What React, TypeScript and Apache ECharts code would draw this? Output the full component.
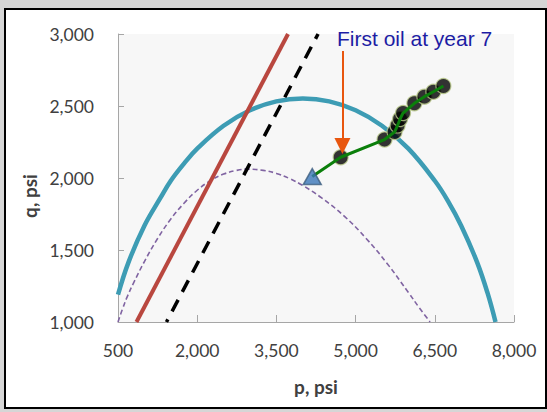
import { useEffect, useRef } from 'react';
import * as echarts from 'echarts';

// ---- data ----
const xTicks = [500, 2000, 3500, 5000, 6500, 8000];

const tealP = [500, 700, 1000, 1300, 1500, 1750, 2000, 2500, 3000, 3500, 4000, 4500, 5000, 5500, 6000, 6500, 6750, 7000, 7300, 7500, 7650];
const tealQ = [1190, 1416, 1669, 1860, 1981, 2100, 2204, 2363, 2470, 2532, 2552, 2532, 2470, 2363, 2204, 1981, 1840, 1669, 1416, 1200, 1000];

const purpleP = [500, 580, 680, 800, 1000, 1250, 1500, 1750, 2000, 2250, 2500, 2750, 2950, 3250, 3500, 3756, 4000, 4357, 4800, 5200, 5600, 6000, 6200, 6410];
const purpleQ = [1000, 1085, 1180, 1275, 1420, 1580, 1715, 1825, 1915, 1982, 2027, 2053, 2062, 2053, 2032, 1995, 1948, 1862, 1730, 1580, 1405, 1205, 1102, 1000];

const redP = [850, 3720];
const redQ = [1000, 3000];

const blackP = [1418, 4289];
const blackQ = [1000, 3000];

const startP = [4179];
const startQ = [2010];

const oilP = [4717, 5548, 5738, 5795, 5842, 5899, 6113, 6303, 6473, 6663];
const oilQ = [2144, 2267, 2319, 2365, 2410, 2451, 2519, 2565, 2599, 2639];

const arrowP = [4751, 4751];
const arrowQ = [2882, 2222];

const annotation = 'First oil at year 7';
const xTitle = 'p, psi';
const yTitle = 'q, psi';

const zip = (a: number[], b: number[]) => a.map((v, i) => [v, b[i]]);

export default function App() {
  const ref = useRef<HTMLDivElement>(null);

  useEffect(() => {
    if (!ref.current) return;
    const chart = echarts.init(ref.current, undefined, { renderer: 'svg' });
    const labelFont = { fontFamily: 'Lato', fontSize: 17.5, color: '#404040' };
    const fmt = (v: number) => v.toLocaleString('en-US');

    chart.setOption({
      animation: false,
      backgroundColor: 'transparent',
      grid: {
        left: 118,
        right: 33,
        top: 34,
        bottom: 90,
        show: true,
        backgroundColor: '#f7f7f7',
        borderWidth: 0,
      },
      xAxis: {
        type: 'value',
        min: 500,
        max: 8000,
        splitLine: { show: false },
        axisLine: { show: true, onZero: false, lineStyle: { color: '#a6a6a6', width: 1 } },
        axisTick: { show: true, inside: true, length: 7, customValues: xTicks, lineStyle: { color: '#a6a6a6' } },
        axisLabel: { ...labelFont, margin: 19, customValues: xTicks, formatter: fmt },
      },
      yAxis: {
        type: 'value',
        min: 1000,
        max: 3000,
        interval: 500,
        splitLine: { show: false },
        axisLine: { show: true, onZero: false, lineStyle: { color: '#a6a6a6', width: 1 } },
        axisTick: { show: true, inside: true, length: 6, lineStyle: { color: '#a6a6a6' } },
        axisLabel: { ...labelFont, margin: 24, formatter: fmt },
      },
      series: [
        {
          type: 'line',
          data: zip(purpleP, purpleQ),
          smooth: 0.4,
          showSymbol: false,
          symbol: 'none',
          lineStyle: { color: '#8064a2', width: 1.6, type: [5, 3] },
          z: 1,
        },
        {
          type: 'line',
          data: zip(tealP, tealQ),
          smooth: 0.4,
          showSymbol: false,
          symbol: 'none',
          lineStyle: { color: '#3d9cb4', width: 4.5 },
          z: 2,
        },
        {
          type: 'line',
          data: zip(redP, redQ),
          showSymbol: false,
          symbol: 'none',
          lineStyle: { color: '#b9473f', width: 4 },
          z: 3,
        },
        {
          type: 'line',
          data: zip(blackP, blackQ),
          showSymbol: false,
          symbol: 'none',
          lineStyle: { color: '#000000', width: 3.5, type: [13, 9], dashOffset: 10 },
          z: 3,
        },
        {
          type: 'scatter',
          data: zip(oilP, oilQ),
          symbol: 'circle',
          symbolSize: 15,
          itemStyle: { color: '#000000', borderColor: '#b9c98a', borderWidth: 1.2 },
          z: 4,
        },
        {
          type: 'line',
          data: zip(startP.concat(oilP), startQ.concat(oilQ)),
          showSymbol: false,
          symbol: 'none',
          lineStyle: { color: '#0b7f0b', width: 3 },
          z: 5,
          markLine: {
            silent: true,
            animation: false,
            symbol: ['none', 'triangle'],
            symbolSize: [16, 16],
            lineStyle: { color: '#e8560f', width: 2, type: 'solid' },
            itemStyle: { color: '#e8560f' },
            label: { show: false },
            data: [[{ coord: [arrowP[0], arrowQ[0]] }, { coord: [arrowP[1], arrowQ[1]] }]],
          },
        },
        {
          type: 'scatter',
          data: zip(startP, startQ),
          symbol: 'triangle',
          symbolSize: [18, 16],
          itemStyle: { color: '#3a76b8', borderColor: '#3f5f80', borderWidth: 1.5 },
          z: 6,
        },
      ],
      graphic: [
        {
          type: 'text',
          x: 337,
          y: 38.7,
          style: {
            text: annotation,
            fill: '#1c1ca4',
            font: '21px "Liberation Sans", Arial, sans-serif',
            align: 'left',
            verticalAlign: 'middle',
          },
        },
        {
          type: 'text',
          x: 29,
          y: 196,
          rotation: Math.PI / 2,
          style: {
            text: yTitle,
            fill: '#404040',
            font: 'bold 19px Lato',
            align: 'center',
            verticalAlign: 'middle',
          },
        },
        {
          type: 'text',
          x: 316,
          y: 386,
          style: {
            text: xTitle,
            fill: '#404040',
            font: 'bold 19px Lato',
            align: 'center',
            verticalAlign: 'middle',
          },
        },
      ],
    });

    return () => chart.dispose();
  }, []);

  return (
    <div style={{ position: 'absolute', left: 0, top: 0, width: 547, height: 412, background: '#d6d6d6', overflow: 'hidden' }}>
      <div
        style={{
          position: 'absolute',
          left: 4,
          top: 8,
          width: 543,
          height: 401,
          boxSizing: 'border-box',
          background: '#ffffff',
          border: '2px solid #000000',
        }}
      />
      <div ref={ref} style={{ position: 'absolute', left: 0, top: 0, width: 547, height: 412 }} />
    </div>
  );
}
